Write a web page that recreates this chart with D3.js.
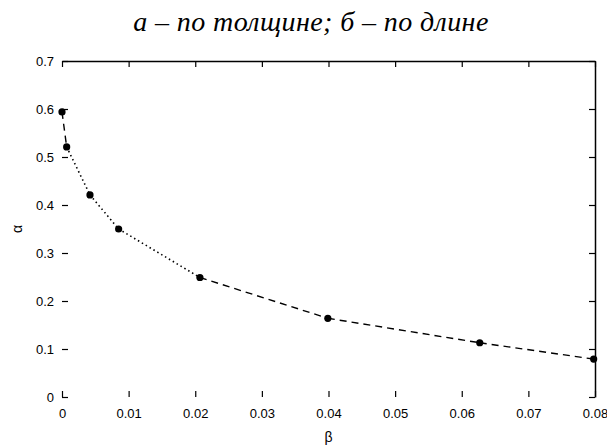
<!DOCTYPE html>
<html lang="ru">
<head>
<meta charset="UTF-8">
<title>alpha(beta)</title>
<script src="https://cdn.jsdelivr.net/npm/d3@7/dist/d3.min.js"></script>
<style>
  body { margin: 0; background: #fff; }
  .tick text { font-family: "Liberation Sans", Arial, sans-serif; font-size: 13px; fill: #000; }
  .tick line { stroke: #000; stroke-width: 1.2; }
</style>
</head>
<body>
<svg id="chart" width="607" height="446"></svg>
<script>
// values
var beta  = [0.0000, 0.0007, 0.0042, 0.0085, 0.0207, 0.0399, 0.0627, 0.0798];
var alpha = [0.594, 0.521, 0.421, 0.350, 0.249, 0.164, 0.113, 0.079];
var xTicks = [0, 0.01, 0.02, 0.03, 0.04, 0.05, 0.06, 0.07, 0.08];
var yTicks = [0, 0.1, 0.2, 0.3, 0.4, 0.5, 0.6, 0.7];
var title = "а – по толщине; б – по длине";

var svg = d3.select("#chart");
var m = {left: 62, right: 595, top: 61, bottom: 397};

var x = d3.scaleLinear().domain([0, 0.08]).range([m.left, m.right]);
var y = d3.scaleLinear().domain([0, 0.7]).range([m.bottom, m.top]);
var fmt = function (d) { return d === 0 ? "0" : d3.format(".2~f")(d); };

// bottom / left: ticks + labels, no visible axis line (lost in the scan)
svg.append("g").attr("transform", "translate(0," + m.bottom + ")")
    .call(d3.axisBottom(x).tickValues(xTicks).tickFormat(fmt).tickSize(-6).tickPadding(12))
    .call(g => g.select(".domain").remove());
svg.append("g").attr("transform", "translate(" + m.left + ",0)")
    .call(d3.axisLeft(y).tickValues(yTicks).tickFormat(fmt).tickSize(-6).tickPadding(8))
    .call(g => g.select(".domain").remove());

// top / right: box lines with inward ticks
svg.append("g").attr("transform", "translate(0," + m.top + ")")
    .call(d3.axisTop(x).tickValues(xTicks).tickFormat("").tickSize(-6).tickSizeOuter(0))
    .call(g => g.select(".domain").attr("stroke", "#000").attr("stroke-width", 1.5));
svg.append("g").attr("transform", "translate(" + m.right + ",0)")
    .call(d3.axisRight(y).tickValues(yTicks).tickFormat("").tickSize(-6).tickSizeOuter(0))
    .call(g => g.select(".domain").attr("stroke", "#000").attr("stroke-width", 1.5));

// curve, segment by segment (dashed / dotted as in the scan)
var pts = beta.map((b, i) => [b, alpha[i]]);
var line = d3.line().x(d => x(d[0])).y(d => y(d[1]));
for (var i = 0; i < pts.length - 1; i++) {
    var dotted = i >= 1 && i <= 3;
    svg.append("path")
        .attr("d", line([pts[i], pts[i + 1]]))
        .attr("fill", "none")
        .attr("stroke", "#000")
        .attr("stroke-width", dotted ? 1.6 : 1.4)
        .attr("stroke-dasharray", dotted ? "1.5,3" : "7,5");
}

svg.selectAll("circle.pt").data(pts).join("circle")
    .attr("class", "pt")
    .attr("cx", d => x(d[0]))
    .attr("cy", d => y(d[1]))
    .attr("r", 3.6)
    .attr("fill", "#000");

// labels
svg.append("text")
    .attr("x", (m.left + m.right) / 2).attr("y", 442)
    .attr("text-anchor", "middle")
    .style("font-family", "Liberation Sans, Arial, sans-serif")
    .style("font-size", "14px")
    .text("β");
svg.append("text")
    .attr("transform", "translate(22," + (m.top + m.bottom) / 2 + ") rotate(-90)")
    .attr("text-anchor", "middle")
    .style("font-family", "Liberation Sans, Arial, sans-serif")
    .style("font-size", "14px")
    .text("α");

svg.append("text")
    .attr("x", 311).attr("y", 31)
    .attr("text-anchor", "middle")
    .style("font-family", "Liberation Serif, Times New Roman, serif")
    .style("font-style", "italic")
    .style("font-size", "28px")
    .style("letter-spacing", "0.4px")
    .text(title);
</script>
</body>
</html>
